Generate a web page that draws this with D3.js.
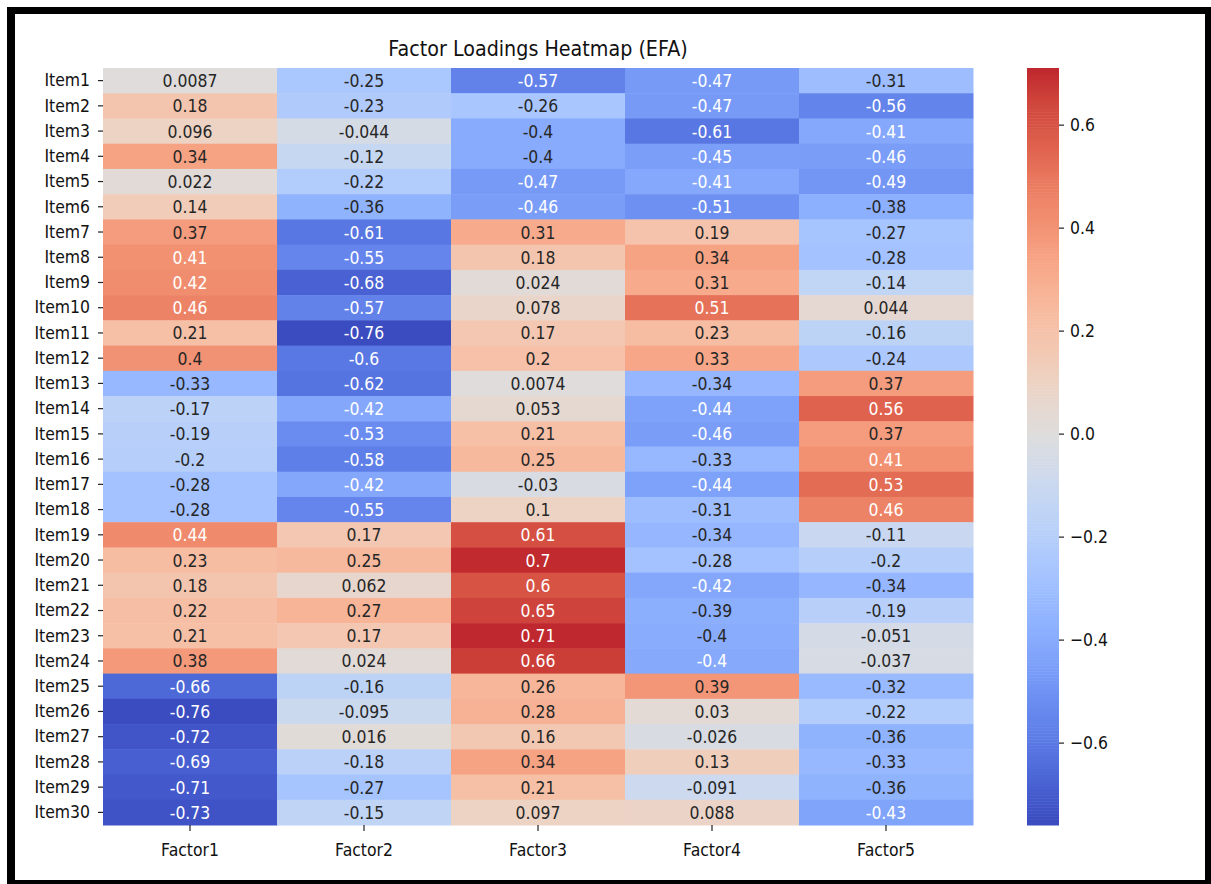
<!DOCTYPE html>
<html lang="en">
<head>
<meta charset="UTF-8">
<title>Factor Loadings Heatmap (EFA)</title>
<script src="https://cdn.jsdelivr.net/npm/d3@7"></script>
<style>
  body { margin: 0; background: #fff; }
  text { font-family: "DejaVu Sans", sans-serif; }
</style>
</head>
<body>
<script>
var items = ['Item1','Item2','Item3','Item4','Item5','Item6','Item7','Item8','Item9','Item10',
             'Item11','Item12','Item13','Item14','Item15','Item16','Item17','Item18','Item19','Item20',
             'Item21','Item22','Item23','Item24','Item25','Item26','Item27','Item28','Item29','Item30'];
var factors = ['Factor1','Factor2','Factor3','Factor4','Factor5'];

var factor1 = [0.0087, 0.18, 0.096, 0.34, 0.022, 0.14, 0.37, 0.41, 0.42, 0.46,
               0.21, 0.4, -0.33, -0.17, -0.19, -0.2, -0.28, -0.28, 0.44, 0.23,
               0.18, 0.22, 0.21, 0.38, -0.66, -0.76, -0.72, -0.69, -0.71, -0.73];
var factor2 = [-0.25, -0.23, -0.044, -0.12, -0.22, -0.36, -0.61, -0.55, -0.68, -0.57,
               -0.76, -0.6, -0.62, -0.42, -0.53, -0.58, -0.42, -0.55, 0.17, 0.25,
               0.062, 0.27, 0.17, 0.024, -0.16, -0.095, 0.016, -0.18, -0.27, -0.15];
var factor3 = [-0.57, -0.26, -0.4, -0.4, -0.47, -0.46, 0.31, 0.18, 0.024, 0.078,
               0.17, 0.2, 0.0074, 0.053, 0.21, 0.25, -0.03, 0.1, 0.61, 0.7,
               0.6, 0.65, 0.71, 0.66, 0.26, 0.28, 0.16, 0.34, 0.21, 0.097];
var factor4 = [-0.47, -0.47, -0.61, -0.45, -0.41, -0.51, 0.19, 0.34, 0.31, 0.51,
               0.23, 0.33, -0.34, -0.44, -0.46, -0.33, -0.44, -0.31, -0.34, -0.28,
               -0.42, -0.39, -0.398, -0.4045, 0.39, 0.03, -0.026, 0.13, -0.091, 0.088];
var factor5 = [-0.31, -0.56, -0.41, -0.46, -0.49, -0.38, -0.27, -0.28, -0.14, 0.044,
               -0.16, -0.24, 0.37, 0.56, 0.37, 0.41, 0.53, 0.46, -0.11, -0.2,
               -0.34, -0.19, -0.051, -0.037, -0.32, -0.22, -0.36, -0.33, -0.36, -0.43];
var cbTicks = [-0.6, -0.4, -0.2, 0, 0.2, 0.4, 0.6];

// coolwarm (Moreland), 33 stops
var coolwarmStops = [
  [59,76,192],[68,90,204],[77,104,215],[87,117,225],[98,130,234],[108,142,241],[119,154,247],
  [130,165,251],[141,176,254],[152,185,255],[163,194,255],[174,201,253],[184,208,249],[194,213,244],
  [204,217,238],[213,219,230],[221,221,221],[229,216,209],[236,211,197],[241,204,184],[245,196,172],
  [247,187,160],[247,177,148],[247,166,135],[244,154,123],[241,141,111],[236,127,99],[229,112,88],
  [222,96,77],[213,80,66],[203,62,56],[192,40,47],[180,4,38]];

var W = 1211, H = 884;
var sx = 0.87; // text looks horizontally squeezed in the picture

var svg = d3.select('body').append('svg').attr('width', W).attr('height', H);

// black frame
svg.append('rect').attr('x', 7).attr('y', 7).attr('width', W - 7).attr('height', 7).attr('fill', '#000');
svg.append('rect').attr('x', 7).attr('y', 7).attr('width', 8).attr('height', H - 7).attr('fill', '#000');
svg.append('rect').attr('x', 1205).attr('y', 7).attr('width', 6).attr('height', H - 7).attr('fill', '#000');
svg.append('rect').attr('x', 7).attr('y', 880).attr('width', W - 7).attr('height', 4).attr('fill', '#000');

var loadings = [factor1, factor2, factor3, factor4, factor5];
var cells = [];
items.forEach(function(it, i) {
  factors.forEach(function(f, j) {
    cells.push({item: it, factor: f, v: loadings[j][i]});
  });
});

var x = d3.scaleBand().domain(factors).range([103, 973]);
var y = d3.scaleBand().domain(items).range([68, 825]);

var vmin = d3.min(cells, function(d) { return d.v; });
var vmax = d3.max(cells, function(d) { return d.v; });
var vrange = Math.max(vmax, -vmin);
var cmin = (vmin + vrange) / (2 * vrange), cmax = (vmax + vrange) / (2 * vrange);

var coolwarm = d3.scaleLinear()
  .domain(coolwarmStops.map(function(c, i) { return i / (coolwarmStops.length - 1); }))
  .range(coolwarmStops.map(function(c) { return 'rgb(' + c.join(',') + ')'; }))
  .interpolate(d3.interpolateRgb);

// centred at 0, like seaborn's center=0
function colorOf(v) {
  var t = (v - vmin) / (vmax - vmin);
  var i = Math.max(0, Math.min(255, Math.floor(t * 256)));
  var cc = cmin + (cmax - cmin) * i / 255;
  var j = Math.max(0, Math.min(255, Math.floor(cc * 256)));
  return coolwarm(j / 255);
}

function luminance(c) {
  var rgb = d3.rgb(c);
  var ch = [rgb.r, rgb.g, rgb.b].map(function(v) {
    v = v / 255;
    return v <= 0.03928 ? v / 12.92 : Math.pow((v + 0.055) / 1.055, 2.4);
  });
  return 0.2126 * ch[0] + 0.7152 * ch[1] + 0.0722 * ch[2];
}

var fmt = d3.formatLocale({decimal: '.', thousands: ',', grouping: [3], currency: ['', ''], minus: '-'}).format('.2~g');

// cells
svg.append('g').selectAll('rect')
  .data(cells).enter().append('rect')
  .attr('x', function(d) { return x(d.factor); })
  .attr('y', function(d) { return y(d.item); })
  .attr('width', x.bandwidth() + 0.5)
  .attr('height', y.bandwidth() + 0.5)
  .attr('fill', function(d) { return colorOf(d.v); });

// annotations
svg.append('g').selectAll('text')
  .data(cells).enter().append('text')
  .attr('transform', function(d) {
    return 'translate(' + (x(d.factor) + x.bandwidth() / 2) + ',' + (y(d.item) + y.bandwidth() / 2) + ') scale(' + sx + ',1)';
  })
  .attr('text-anchor', 'middle')
  .attr('dy', '0.36em')
  .attr('font-size', 18)
  .attr('fill', function(d) { return luminance(colorOf(d.v)) > 0.4055 ? '#262626' : '#fff'; })
  .text(function(d) { return fmt(d.v); });

// axes
var yAxis = svg.append('g').attr('transform', 'translate(103,0)')
  .call(d3.axisLeft(y).tickSize(5).tickPadding(8));
var xAxis = svg.append('g').attr('transform', 'translate(0,825)')
  .call(d3.axisBottom(x).tickSize(6).tickPadding(12));

var cb = d3.scaleLinear().domain([vmin, vmax]).range([825, 68]);
var cbAxis = svg.append('g').attr('transform', 'translate(1059,0)')
  .call(d3.axisRight(cb).tickValues(cbTicks).tickFormat(d3.format('.1f')).tickSize(5).tickPadding(6));

[yAxis, xAxis, cbAxis].forEach(function(a) {
  a.select('.domain').remove();
  a.selectAll('line').attr('stroke', '#222').attr('stroke-width', 1.2);
  a.selectAll('text').attr('font-size', 18).attr('fill', '#111')
    .attr('font-family', '"DejaVu Sans", sans-serif');
});
yAxis.selectAll('text').attr('x', -13 / sx).attr('transform', 'scale(' + sx + ',1)');
xAxis.selectAll('text').attr('transform', 'scale(' + sx + ',1)');
cbAxis.selectAll('text').attr('x', 11 / sx).attr('transform', 'scale(' + sx + ',1)');

// colour bar
var steps = d3.range(256);
svg.append('g').selectAll('rect')
  .data(steps).enter().append('rect')
  .attr('x', 1027)
  .attr('width', 32)
  .attr('y', function(i) { return cb(vmin + (vmax - vmin) * (i + 1) / 256); })
  .attr('height', function(i) { return cb(vmin + (vmax - vmin) * i / 256) - cb(vmin + (vmax - vmin) * (i + 1) / 256) + 0.5; })
  .attr('fill', function(i) { return colorOf(vmin + (vmax - vmin) * (i + 0.5) / 256); });

// title
svg.append('text')
  .attr('transform', 'translate(538,56) scale(' + sx + ',1)')
  .attr('text-anchor', 'middle')
  .attr('font-size', 22)
  .attr('fill', '#111')
  .text('Factor Loadings Heatmap (EFA)');
</script>
</body>
</html>
